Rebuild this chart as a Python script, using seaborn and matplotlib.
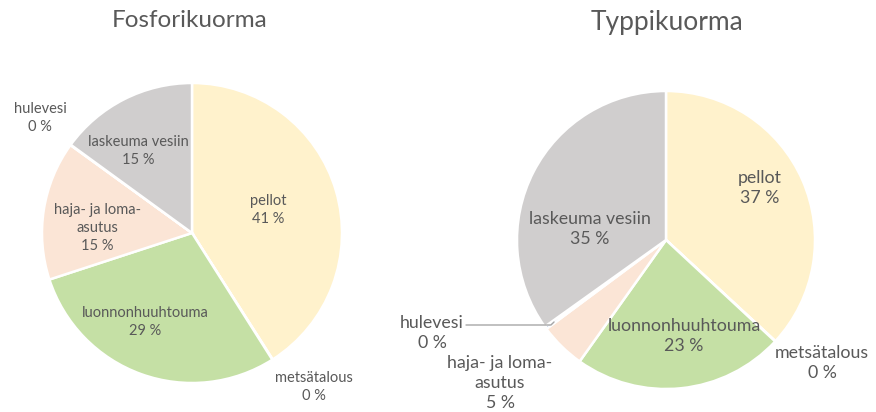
import matplotlib
matplotlib.use("Agg")
import matplotlib.pyplot as plt
import seaborn as sns

# data
categories = ["pellot", "metsätalous", "luonnonhuuhtouma", "haja- ja loma-\nasutus", "hulevesi", "laskeuma vesiin"]
fosfori = [41, 0.05, 29, 15, 0.05, 15]
typpi = [37, 0.05, 23, 5, 0.3, 35]
colors = ["#FFF2CC", "#70AD47", "#C5E0A5", "#FBE5D6", "#4472C4", "#D0CECE"]

sns.set_theme(style="white")
plt.rcParams['font.family'] = ['Lato', 'DejaVu Sans']
txt = "#595959"

fig = plt.figure(figsize=(8.76, 4.12), dpi=100)
ax = fig.add_axes([0, 0, 1, 1])

H = 412

# left pie
ax.pie(fosfori, colors=colors, startangle=90, counterclock=False,
       center=(192, H - 233), radius=150,
       wedgeprops=dict(edgecolor="white", linewidth=1.8))
# right pie
ax.pie(typpi, colors=colors, startangle=90, counterclock=False,
       center=(666, H - 240), radius=149,
       wedgeprops=dict(edgecolor="white", linewidth=1.8))

ax.set_xlim(0, 876)
ax.set_ylim(0, 412)
ax.set_aspect("equal")
ax.axis("off")

ax.text(190, H - 20, "Fosforikuorma", ha="center", va="center", fontsize=17.5, color=txt)
ax.text(667, H - 22, "Typpikuorma", ha="center", va="center", fontsize=19, color=txt)

left_pos = [(268, 210), (314, 387), (145, 322), (97, 228), (40, 118), (138, 151)]
right_pos = [(760, 188), (822, 363), (684, 336), (500, 383), (432, 333), (590, 229)]

for name, v, (x, y) in zip(categories, fosfori, left_pos):
    ax.text(x, H - y, f"{name}\n{round(v)} %", ha="center", va="center",
            fontsize=10.5, color=txt, linespacing=1.38)

for name, v, (x, y) in zip(categories, typpi, right_pos):
    ax.text(x, H - y, f"{name}\n{round(v)} %", ha="center", va="center",
            fontsize=12.8, color=txt, linespacing=1.28)

# leader line for hulevesi
ax.plot([466, 551, 554], [H - 325, H - 325, H - 322], color="#A6A6A6", linewidth=1)

fig.savefig("out.png", dpi=100)
